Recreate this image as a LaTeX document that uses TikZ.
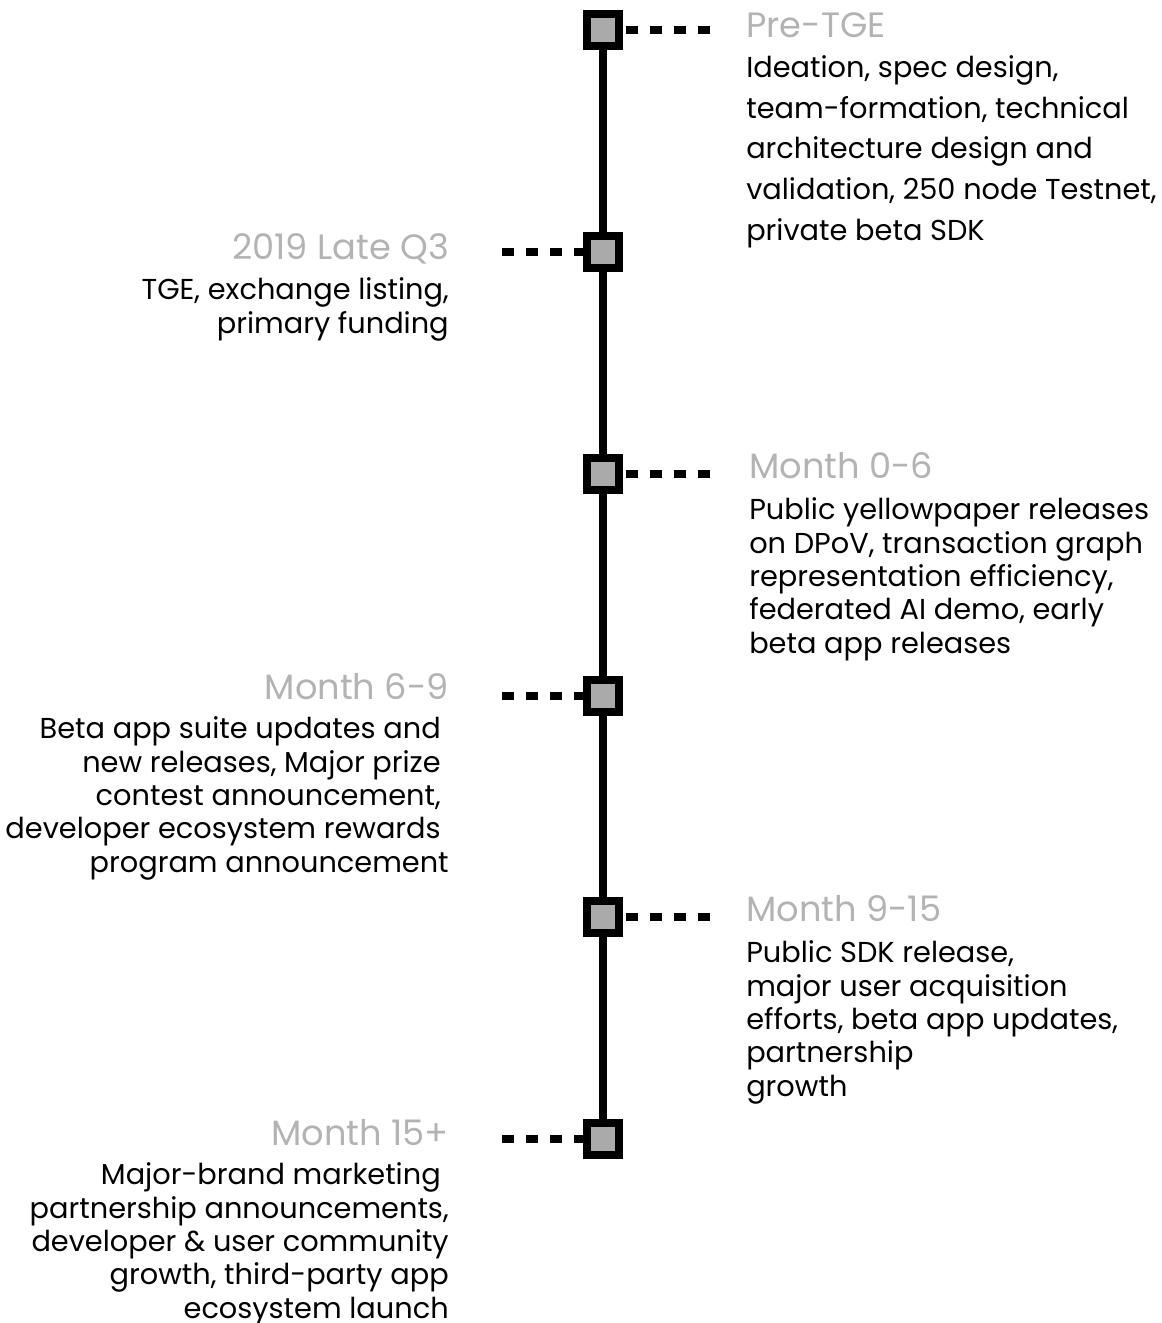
\documentclass[tikz,border=0pt]{standalone}
\usepackage{fontspec}
\setmainfont{Poppins}
\usetikzlibrary{positioning}

\definecolor{stonegray}{HTML}{AAAAAA}
\definecolor{headgray}{HTML}{B3B3B3}

\newcommand{\tailgap}{\rule{6pt}{0pt}}

\tikzset{
  stone/.style={draw=black, fill=stonegray, line width=6pt, minimum size=24pt, inner sep=0pt},
  spine/.style={line width=5.5pt},
  linkline/.style={line width=6pt, dash pattern=on 9pt off 9pt},
  heading/.style={inner sep=0pt, text=headgray, font=\fontsize{26.4}{30}\selectfont},
  notes/.style={inner sep=0pt, font=\fontsize{21.6}{25}\selectfont},
}

\begin{document}
\begin{tikzpicture}[x=0.75pt, y=-0.75pt]
\useasboundingbox (0,0) rectangle (1161,1323);

% milestones on the spine
\node[stone] (m1) at (603,30) {};
\node[stone] (m2) at (603,252) {};
\node[stone] (m3) at (603,474) {};
\node[stone] (m4) at (603,696) {};
\node[stone] (m5) at (603,917) {};
\node[stone] (m6) at (603,1139) {};

\coordinate (r1) at (711,30);
\coordinate (l2) at (502,252);
\coordinate (r3) at (711,474);
\coordinate (l4) at (502,696);
\coordinate (r5) at (711,917);
\coordinate (l6) at (502,1139);

\draw[spine] (m1.center) -- (m6.center);
\draw[linkline] ([xshift=2.25pt]m1.east) -- (r1);
\draw[linkline] (l2) -- (m2.center);
\draw[linkline] ([xshift=2.25pt]m3.east) -- (r3);
\draw[linkline] (l4) -- (m4.center);
\draw[linkline] ([xshift=2.25pt]m5.east) -- (r5);
\draw[linkline] (l6) -- (m6.center);

% squares again, over the lines
\foreach \m in {m1,m2,m3,m4,m5,m6}
  \node[stone] at (\m) {};

% Pre-TGE
\node[heading, anchor=base west] (h1) at (746,38) {Pre-TGE};
\node[notes, anchor=base west, align=left, font=\fontsize{21.6}{30.4}\selectfont] (t1) at (746,240)
  {Ideation, spec design,\\ team-formation, technical\\ architecture design and\\
   validation, 250 node Testnet,\\ private beta SDK};

% 2019
\node[heading, anchor=base east] (h2) at (449,259) {2019 Late Q3};
\node[notes, anchor=base east, align=right] (t2) at (449,333)
  {TGE, exchange listing,\\ primary funding};

% Month 0-6
\node[heading, anchor=base west] (h3) at (749,478) {Month 0-6};
\node[notes, anchor=base west, align=left] (t3) at (749,653)
  {Public yellowpaper releases\\ on DPoV, transaction graph\\ representation efficiency,\\
   federated AI demo, early\\ beta app releases};

% Month 6-9
\node[heading, anchor=base east] (h4) at (449,699) {Month 6-9};
\node[notes, anchor=base east, align=right] (t4) at (449,872)
  {Beta app suite updates and\tailgap\\ new releases, Major prize\tailgap\\
   contest announcement,\tailgap\\ developer ecosystem rewards\tailgap\\
   program announcement};

% Month 9-15
\node[heading, anchor=base west] (h5) at (746,921) {Month 9-15};
\node[notes, anchor=base west, align=left] (t5) at (746,1096)
  {Public SDK release,\\ major user acquisition\\ efforts, beta app updates,\\
   partnership\\ growth};

% Month 15+
\node[heading, anchor=base east] (h6) at (449,1145) {Month 15+};
\node[notes, anchor=base east, align=right] (t6) at (449,1318)
  {Major-brand marketing\tailgap\\ partnership announcements,\\
   developer \& user community\\ growth, third-party app\\ ecosystem launch};
\end{tikzpicture}
\end{document}
